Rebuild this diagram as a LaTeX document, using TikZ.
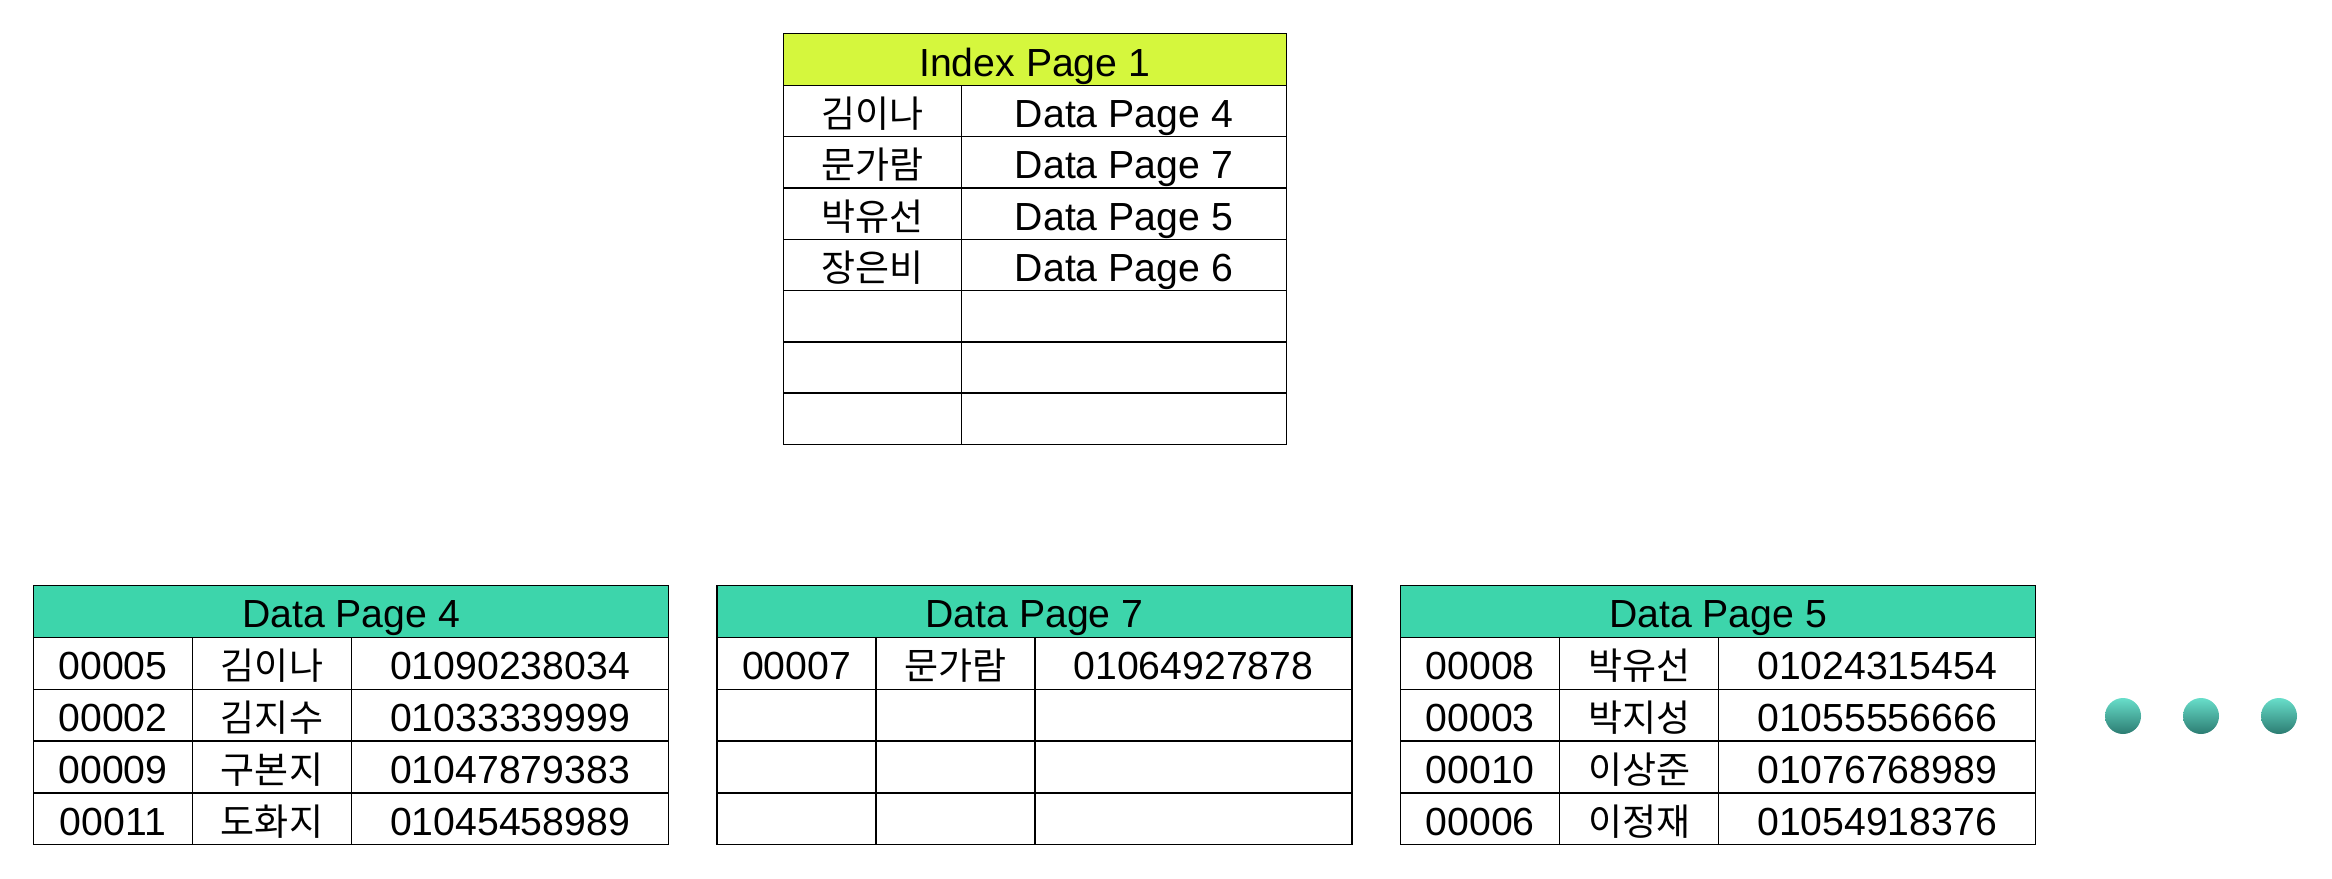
\documentclass[tikz,border=0pt]{standalone}
\usepackage{fontspec}
\setmainfont{Liberation Sans}
\newfontfamily\krfont{Noto Sans CJK KR}
\definecolor{idxhead}{RGB}{213,247,61}
\definecolor{datahead}{RGB}{61,213,171}
\definecolor{dottop}{RGB}{104,222,202}
\definecolor{dotbot}{RGB}{44,124,114}
\begin{document}
\begin{tikzpicture}[x=0.5pt,y=-0.5pt,
  grid/.style={draw=black, line width=0.7pt},
  celltext/.style={anchor=base, inner sep=0pt, font=\fontsize{19.6}{22}\selectfont},
  krtext/.style={anchor=base, inner sep=0pt, font=\fontsize{18.5}{22}\selectfont\krfont},
  dotnode/.style={circle, minimum size=18pt, inner sep=0pt, draw=none, top color=dottop, bottom color=dotbot}]
\path[use as bounding box] (0,0) rectangle (2332,878);
% Index page
\fill[idxhead] (783.4,33.3) rectangle (1286.2,85.3);
\foreach \yy in {85.3,136.6,187.9,239.2,290.5,341.8,393.1}
  \draw[grid] (783.4,\yy) -- (1286.2,\yy);
\draw[grid] (961.5,85.3) -- (961.5,444.4);
\draw[grid] (783.4,33.3) rectangle (1286.2,444.4);
\node[celltext] (idxhead) at (1034.8,76) {Index Page 1};
\foreach \nm/\pg [count=\i] in {김이나/4,문가람/7,박유선/5,장은비/6} {
  \node[krtext] (idxk\i) at (872.5,{85.3+51.3*\i-9}) {\nm};
  \node[celltext] (idxv\i) at (1123.9,{85.3+51.3*\i-9}) {Data Page \pg};
}
% Data pages
\foreach \xo/\nm/\pg in {33.5/dpa/4,717/dpb/7,1400.6/dpc/5} {
  \fill[datahead] (\xo,585.3) rectangle ++(635,52.2);
  \foreach \yy in {637.5,689.3,741.1,792.9}
    \draw[grid] (\xo,\yy) -- ++(635,0);
  \draw[grid] ({\xo+159},637.5) -- ++(0,207.2);
  \draw[grid] ({\xo+318},637.5) -- ++(0,207.2);
  \draw[grid] (\xo,585.3) rectangle ++(635,259.4);
  \node[celltext] (\nm head) at ({\xo+317.5},627.3) {Data Page \pg};
}
\foreach \id/\nm/\ph [count=\i] in {00005/김이나/01090238034,00002/김지수/01033339999,00009/구본지/01047879383,00011/도화지/01045458989} {
  \node[celltext] (dpaid\i) at ({33.5+79.5},{637.5+51.8*\i-9.5}) {\id};
  \node[krtext] (dpanm\i) at ({33.5+238.5},{637.5+51.8*\i-9.5}) {\nm};
  \node[celltext] (dpaph\i) at ({33.5+476.5},{637.5+51.8*\i-9.5}) {\ph};
}
\node[celltext] (dpbid1) at ({717+79.5},{637.5+51.8-9.5}) {00007};
\node[krtext] (dpbnm1) at ({717+238.5},{637.5+51.8-9.5}) {문가람};
\node[celltext] (dpbph1) at ({717+476.5},{637.5+51.8-9.5}) {01064927878};
\foreach \id/\nm/\ph [count=\i] in {00008/박유선/01024315454,00003/박지성/01055556666,00010/이상준/01076768989,00006/이정재/01054918376} {
  \node[celltext] (dpcid\i) at ({1400.6+79.5},{637.5+51.8*\i-9.5}) {\id};
  \node[krtext] (dpcnm\i) at ({1400.6+238.5},{637.5+51.8*\i-9.5}) {\nm};
  \node[celltext] (dpcph\i) at ({1400.6+476.5},{637.5+51.8*\i-9.5}) {\ph};
}
% ellipsis dots
\node[dotnode] (dot1) at (2123,716) {};
\node[dotnode] (dot2) at (2201,716) {};
\node[dotnode] (dot3) at (2279,716) {};
\end{tikzpicture}
\end{document}
